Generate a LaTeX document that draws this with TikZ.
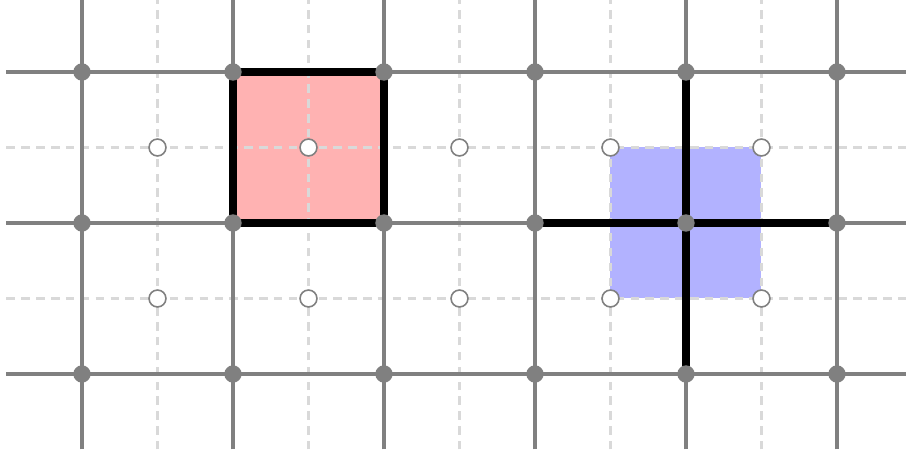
\documentclass[tikz,border=0pt]{standalone}
\usetikzlibrary{positioning}

\begin{document}
\begin{tikzpicture}[x=1cm, y=1cm,
  grid line/.style={gray, line width=0.65pt},
  dual line/.style={gray!30, line width=0.65pt, dash pattern=on 1.6pt off 1.2pt},
  bold edge/.style={black, line width=1.45pt},
  vertex/.style={circle, fill=gray, inner sep=0pt, minimum size=0.115cm},
  dual vertex/.style={circle, draw=gray, fill=white, line width=0.3pt, inner sep=0pt, minimum size=0.112cm}]
  \clip (-0.543,-0.55) rectangle (5.457,2.477);

  % primal and dual points
  \foreach \i in {0,...,5} \foreach \j in {0,1,2} \coordinate (v\i\j) at (\i,\j);
  \foreach \i in {0,...,4} \foreach \j in {0,1} \coordinate (d\i\j) at (\i+0.5,\j+0.5);

  % faces
  \fill[red!30] (v11) rectangle (v22);
  \fill[blue!30] (d30) rectangle (d41);

  % dual grid
  \foreach \i in {0,...,4} \draw[dual line] (\i+0.5,-0.5) -- (\i+0.5,2.5);
  \foreach \j in {0,1} \draw[dual line] (-0.5,\j+0.5) -- (5.5,\j+0.5);

  % primal grid
  \foreach \i in {0,...,5} \draw[grid line] (\i,-0.5) -- (\i,2.5);
  \foreach \j in {0,1,2} \draw[grid line] (-0.5,\j) -- (5.5,\j);

  % plaquette and star
  \draw[bold edge] (v11) -- (v21) -- (v22) -- (v12) -- cycle;
  \draw[bold edge] (v40) -- (v42);
  \draw[bold edge] (v31) -- (v51);

  % vertices
  \foreach \i in {0,...,5} \foreach \j in {0,1,2} \node[vertex] (p\i\j) at (v\i\j) {};
  \foreach \i in {0,...,4} \foreach \j in {0,1} \node[dual vertex] (q\i\j) at (d\i\j) {};
\end{tikzpicture}
\end{document}
